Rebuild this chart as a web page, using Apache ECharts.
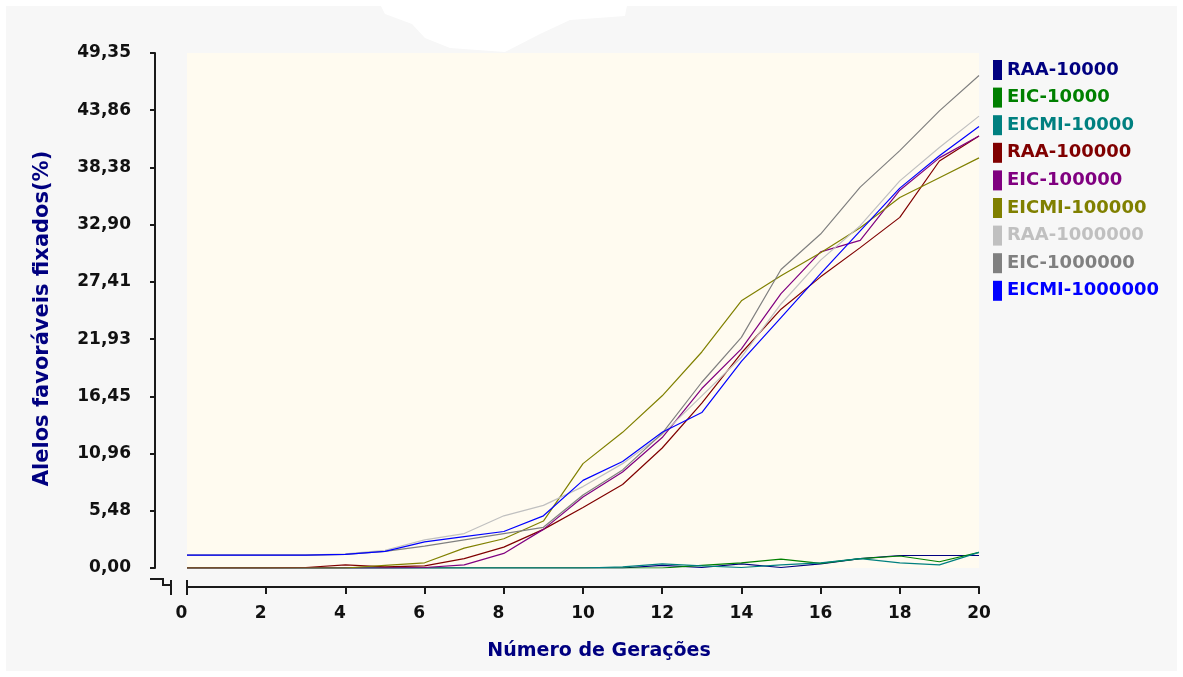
<!DOCTYPE html>
<html>
<head>
<meta charset="utf-8">
<script src="https://cdn.jsdelivr.net/npm/echarts@6/dist/echarts.min.js"></script>
<style>
html,body{margin:0;padding:0;background:#ffffff;width:1183px;height:677px;overflow:hidden;}
#panel{position:absolute;left:6px;top:6px;width:1171px;height:665px;background:#f7f7f7;}
#chart{position:absolute;left:0;top:0;width:1183px;height:677px;}
</style>
</head>
<body>
<div id="panel"></div>
<div id="chart"></div>
<script>
// ---- data ----
const generations = [0,1,2,3,4,5,6,7,8,9,10,11,12,13,14,15,16,17,18,19,20];
const seriesNames = ['RAA-10000','EIC-10000','EICMI-10000','RAA-100000','EIC-100000','EICMI-100000','RAA-1000000','EIC-1000000','EICMI-1000000'];
const raa10k   = [0,0,0,0,0,0,0,0,0,0,0,0,0.25,0.05,0.4,0.05,0.4,0.9,1.2,1.2,1.2];
const eic10k   = [0,0,0,0,0,0,0,0,0,0,0,0,0,0.25,0.5,0.85,0.45,0.9,1.15,0.6,1.5];
const eicmi10k = [0,0,0,0,0,0,0,0,0,0,0,0.1,0.4,0.2,0.05,0.3,0.5,0.9,0.5,0.3,1.5];
const raa100k  = [0,0,0,0.05,0.3,0.1,0.2,0.9,2.0,3.7,5.8,8.0,11.5,15.8,20.6,24.8,27.9,30.7,33.6,39.0,41.4];
const eic100k  = [0,0,0,0,0,0,0.05,0.3,1.4,3.7,6.8,9.2,12.5,17.2,21.0,26.3,30.3,31.4,36.2,39.3,41.4];
const eicmi100k= [0,0,0,0,0,0.25,0.5,1.9,2.8,4.5,10.0,13.0,16.5,20.7,25.6,28.0,30.2,32.6,35.5,37.4,39.3];
const raa1m    = [1.24,1.24,1.24,1.24,1.35,1.7,2.7,3.3,5.0,6.0,7.8,10.0,12.8,16.5,20.2,25.3,29.5,32.8,37.1,40.3,43.3];
const eic1m    = [1.24,1.24,1.24,1.24,1.3,1.6,2.1,2.7,3.3,3.9,7.0,9.4,12.9,17.8,22.1,28.6,32.0,36.5,40.0,43.8,47.2];
const eicmi1m  = [1.24,1.24,1.24,1.24,1.3,1.6,2.5,3.0,3.5,5.0,8.4,10.2,13.0,14.9,19.8,24.0,28.2,32.3,36.4,39.5,42.3];
const yTickLabels = ['0,00','5,48','10,96','16,45','21,93','27,41','32,90','38,38','43,86','49,35'];
const xTickLabels = ['0','2','4','6','8','10','12','14','16','18','20'];
const yMax = 49.35;

// ---- styles ----
const colors = ['#000080','#008000','#008080','#800000','#800080','#808000','#c0c0c0','#808080','#0000ff'];
const allValues = [raa10k,eic10k,eicmi10k,raa100k,eic100k,eicmi100k,raa1m,eic1m,eicmi1m];
const yInterval = yMax / 9;
const FONT = 'DejaVu Sans';

const series = seriesNames.map((name, i) => ({
  name: name,
  type: 'line',
  showSymbol: false,
  symbol: 'none',
  smooth: false,
  lineStyle: {width: 1.2, color: colors[i]},
  itemStyle: {color: colors[i]},
  data: generations.map((g, k) => [g, allValues[i][k]]),
  animation: false
}));

const chart = echarts.init(document.getElementById('chart'), null, {renderer: 'canvas'});
chart.setOption({
  backgroundColor: 'transparent',
  animation: false,
  grid: {left: 187, right: 204, top: 53, bottom: 109, show: true, backgroundColor: '#fffbf0', borderWidth: 0},
  legend: {
    orient: 'vertical', left: 993, top: 60, padding: 0,
    itemWidth: 9, itemHeight: 20, itemGap: 7.6,
    icon: 'rect',
    data: seriesNames.map((n, i) => ({name: n, icon: 'rect', itemStyle: {color: colors[i]}, textStyle: {color: colors[i]}})),
    textStyle: {fontFamily: FONT, fontWeight: 'bold', fontSize: 18},
    selectedMode: false
  },
  xAxis: {
    type: 'value', min: 0, max: 20, interval: 2,
    offset: 19,
    name: 'Número de Gerações', nameLocation: 'middle', nameGap: 55,
    nameTextStyle: {fontFamily: FONT, fontWeight: 'bold', fontSize: 19, color: '#000080', padding: [0, 0, 0, 32]},
    axisLine: {show: true, onZero: false, lineStyle: {color: '#1a1a1a', width: 2}},
    axisTick: {show: true, inside: false, length: 7, lineStyle: {color: '#1a1a1a', width: 2}},
    axisLabel: {
      margin: 18, color: '#111', fontFamily: FONT, fontWeight: 'bold', fontSize: 17,
      formatter: function (v) {
        const lbl = xTickLabels[Math.round(v / 2)] || '';
        return lbl.length < 2 ? '{s|' + lbl + '}' : '{d|' + lbl + '}';
      },
      rich: {
        s: {padding: [0, 11, 0, 0], fontFamily: FONT, fontWeight: 'bold', fontSize: 17, color: '#111'},
        d: {fontFamily: FONT, fontWeight: 'bold', fontSize: 17, color: '#111'}
      }
    },
    splitLine: {show: false}
  },
  yAxis: {
    type: 'value', min: 0, max: yMax, interval: yInterval,
    offset: 32,
    name: 'Alelos favoráveis fixados(%)', nameLocation: 'middle', nameGap: 102, nameRotate: 90,
    nameTextStyle: {fontFamily: FONT, fontWeight: 'bold', fontSize: 21, color: '#000080', padding: [0, 16, 0, 0]},
    axisLine: {show: true, onZero: false, lineStyle: {color: '#1a1a1a', width: 2}},
    axisTick: {show: true, inside: false, length: 5, lineStyle: {color: '#1a1a1a', width: 2}},
    axisLabel: {
      margin: 24, color: '#111', fontFamily: FONT, fontWeight: 'bold', fontSize: 17,
      formatter: function (v) { return yTickLabels[Math.round(v / yInterval)] || ''; }
    },
    splitLine: {show: false}
  },
  graphic: [
    {type: 'polyline', silent: true, shape: {points: [[150, 579], [163, 579], [163, 585], [171, 585]]}, style: {stroke: '#1a1a1a', lineWidth: 2, fill: null}},
    {type: 'line', silent: true, shape: {x1: 171, y1: 580, x2: 171, y2: 595}, style: {stroke: '#1a1a1a', lineWidth: 2}},
    {type: 'line', silent: true, shape: {x1: 187, y1: 580, x2: 187, y2: 595}, style: {stroke: '#1a1a1a', lineWidth: 2}},
    {type: 'polygon', silent: true, z: 100,
     shape: {points: [[378, 0], [628, 0], [625, 16], [570, 20], [540, 34], [505, 52], [450, 48], [425, 38], [412, 24], [385, 14]]},
     style: {fill: '#ffffff'}}
  ],
  series: series
});
</script>
</body>
</html>
